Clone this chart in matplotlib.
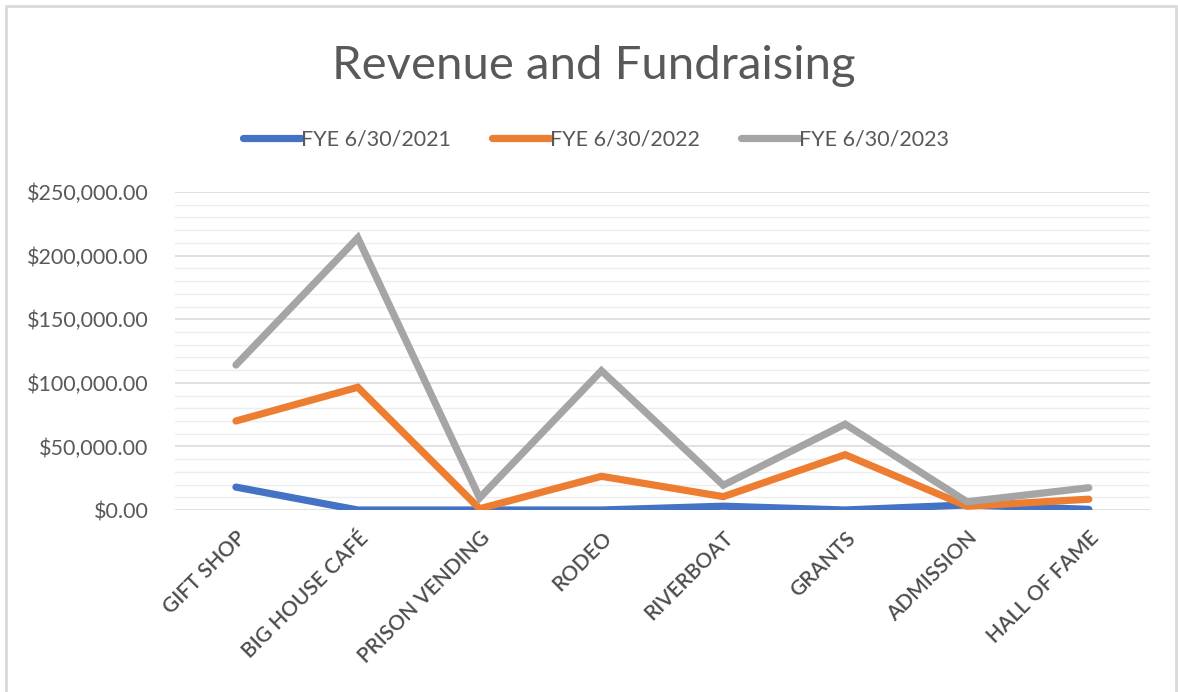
import matplotlib.pyplot as plt
from matplotlib.ticker import MultipleLocator, FuncFormatter
from matplotlib.patches import Rectangle

# Data
categories = ['GIFT SHOP', 'BIG HOUSE CAFÉ', 'PRISON VENDING', 'RODEO',
              'RIVERBOAT', 'GRANTS', 'ADMISSION', 'HALL OF FAME']
fye_2021 = [18000, 0, 0, 0, 3000, 0, 4000, 500]
fye_2022 = [70000, 96500, 1000, 26500, 10500, 43500, 3000, 8500]
fye_2023 = [114000, 214000, 9500, 109500, 19500, 67500, 6500, 17500]
series_names = ['FYE 6/30/2021', 'FYE 6/30/2022', 'FYE 6/30/2023']
colors = ['#4472C4', '#ED7D31', '#A5A5A5']

plt.rcParams['font.family'] = ['Lato', 'DejaVu Sans']
text_color = '#595959'

fig = plt.figure(figsize=(11.78, 6.92), dpi=100)
ax = fig.add_axes([0.1486, 0.263, 0.8274, 0.4595])

x = range(len(categories))
for vals, name, c in zip([fye_2021, fye_2022, fye_2023], series_names, colors):
    ax.plot(x, vals, color=c, lw=5.2, label=name,
            solid_capstyle='round', solid_joinstyle='miter')

ax.set_xlim(-0.5, len(categories) - 0.5)
ax.set_ylim(0, 250000)
ax.yaxis.set_major_locator(MultipleLocator(50000))
ax.yaxis.set_minor_locator(MultipleLocator(10000))
ax.yaxis.set_major_formatter(FuncFormatter(lambda v, p: '${:,.2f}'.format(v)))
ax.grid(which='major', axis='y', color='#D9D9D9', lw=1.1)
ax.grid(which='minor', axis='y', color='#EDEDED', lw=1.0)
ax.set_axisbelow(True)
for s in ax.spines.values():
    s.set_visible(False)
ax.tick_params(which='both', length=0)
ax.tick_params(axis='y', labelsize=15.5, labelcolor=text_color, pad=19)
ax.set_xticks(list(x))
ax.set_xticklabels(categories, rotation=45, ha='right', rotation_mode='anchor',
                   fontsize=15, color='#4d4d4d', fontweight='semibold')
ax.tick_params(axis='x', pad=13)

fig.text(0.504, 0.905, 'Revenue and Fundraising', ha='center', va='center',
         fontsize=34, color=text_color)

fig.legend(loc='center', bbox_to_anchor=(0.506, 0.799), ncol=3, frameon=False,
           fontsize=15.5, handlelength=2.7, handletextpad=0.0, columnspacing=1.9,
           labelcolor=text_color)

fig.patches.append(Rectangle((6 / 1178, -0.05), 1170 / 1178, 0.05 + 686 / 692,
                             transform=fig.transFigure, fill=False,
                             edgecolor='#D9D9D9', lw=2))

fig.savefig('out.png', dpi=100, facecolor='white')
